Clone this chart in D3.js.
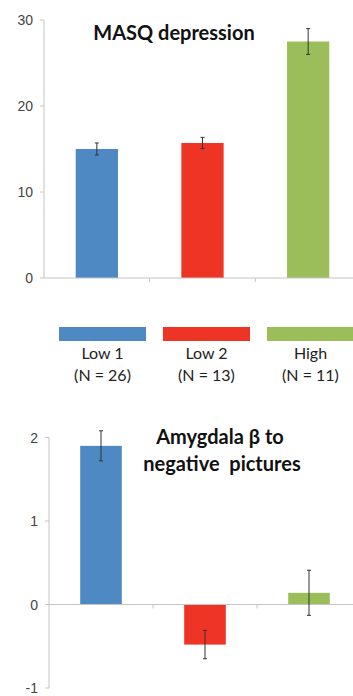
<!DOCTYPE html>
<html><head><meta charset="utf-8">
<script src="https://cdn.jsdelivr.net/npm/d3@7"></script>
<style>body{margin:0;background:#fff}svg{display:block}</style>
</head><body>
<svg id="c" width="353" height="696"></svg>
<script>
const groups = ["Low 1", "Low 2", "High"];
const groupN = ["(N = 26)", "(N = 13)", "(N = 11)"];
const colors = ["#4f89c3", "#ee3424", "#9bbe5a"];
const masqValues = [15.0, 15.7, 27.5];
const masqErrors = [0.7, 0.65, 1.5];
const masqTicks = [0, 10, 20, 30];
const amyValues = [1.9, -0.48, 0.14];
const amyErrors = [0.18, 0.17, 0.27];
const amyTicks = [-1, 0, 1, 2];

const svg = d3.select("#c");
const axisColor = "#c4c4c4";
const tickFont = "'Liberation Sans', Arial, sans-serif";
const titleFont = "Lato, 'Open Sans', sans-serif";

function panel(opts) {
  const x = d3.scaleBand().domain(groups).range([opts.x0, opts.x1]).paddingInner(0.6).paddingOuter(0.3);
  const y = d3.scaleLinear().domain(opts.domain).range(opts.yRange);
  const g = svg.append("g");
  g.append("line").attr("x1", opts.x0).attr("x2", opts.x0)
    .attr("y1", y(opts.domain[1])).attr("y2", y(opts.domain[0]))
    .attr("stroke", axisColor).attr("stroke-width", 1);
  opts.ticks.forEach(t => {
    g.append("line").attr("x1", opts.x0 - 4).attr("x2", opts.x0)
      .attr("y1", y(t)).attr("y2", y(t)).attr("stroke", axisColor);
    g.append("text").attr("x", opts.x0 - 11).attr("y", y(t)).attr("dy", "0.36em")
      .attr("text-anchor", "end").attr("font-family", tickFont).attr("font-size", 14)
      .attr("fill", "#444").text(t);
  });
  groups.forEach((c, i) => {
    const v = opts.values[i];
    g.append("rect").attr("x", x(c)).attr("width", x.bandwidth())
      .attr("y", y(Math.max(0, v))).attr("height", Math.abs(y(v) - y(0)))
      .attr("fill", colors[i]);
  });
  const step = x.step();
  g.append("line").attr("x1", opts.x0).attr("x2", 353).attr("y1", y(0)).attr("y2", y(0))
    .attr("stroke", axisColor);
  [1, 2].forEach(k => {
    const tx = x(groups[k]) - x.paddingInner() * step / 2;
    g.append("line").attr("x1", tx).attr("x2", tx).attr("y1", y(0)).attr("y2", y(0) + 4)
      .attr("stroke", axisColor);
  });
  groups.forEach((c, i) => {
    const cx = x(c) + x.bandwidth() / 2;
    const v = opts.values[i], e = opts.errors[i];
    const eg = g.append("g").attr("stroke", "#333").attr("stroke-width", 1);
    eg.append("line").attr("x1", cx).attr("x2", cx).attr("y1", y(v + e)).attr("y2", y(v - e));
    [v + e, v - e].forEach(w => eg.append("line").attr("x1", cx - 2).attr("x2", cx + 2)
      .attr("y1", y(w)).attr("y2", y(w)));
  });
  return {x, y};
}

function title(x, y, txt) {
  svg.append("text").attr("x", x).attr("y", y).attr("text-anchor", "middle")
    .attr("font-family", titleFont).attr("font-weight", "bold").attr("font-size", 20)
    .attr("fill", "#111").style("white-space", "pre").text(txt);
}

panel({x0: 44, x1: 361, domain: [0, 30], yRange: [278, 20], ticks: masqTicks, values: masqValues, errors: masqErrors});
title(174, 40, "MASQ depression");

panel({x0: 49, x1: 361, domain: [-1, 2], yRange: [688, 437.5], ticks: amyTicks, values: amyValues, errors: amyErrors});
title(220, 444, "Amygdala β to");
title(222, 471, "negative  pictures");

// legend
const lx = d3.scaleBand().domain(groups).range([59, 354]).paddingInner(0.163).paddingOuter(0);
groups.forEach((c, i) => {
  svg.append("rect").attr("x", lx(c)).attr("y", 327).attr("width", lx.bandwidth()).attr("height", 14)
    .attr("fill", colors[i]);
  const cx = lx(c) + lx.bandwidth() / 2;
  svg.append("text").attr("x", cx).attr("y", 359).attr("text-anchor", "middle")
    .attr("font-family", titleFont).attr("font-size", 16).attr("fill", "#222").text(c);
  svg.append("text").attr("x", cx).attr("y", 381).attr("text-anchor", "middle")
    .attr("font-family", titleFont).attr("font-size", 16).attr("fill", "#222").text(groupN[i]);
});
</script>
</body></html>
